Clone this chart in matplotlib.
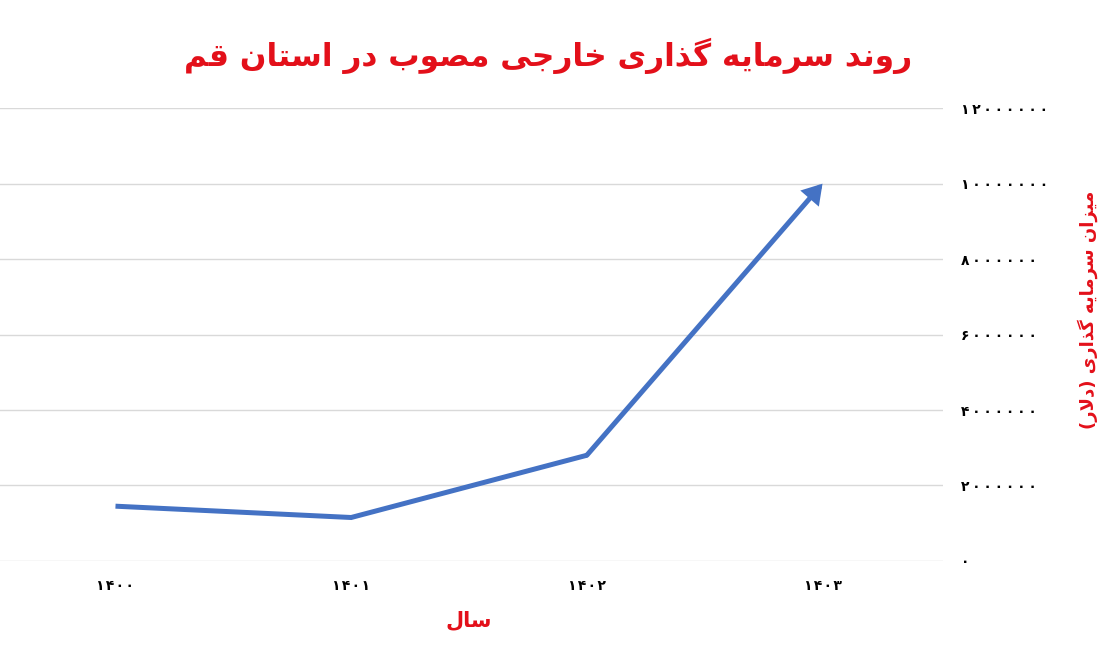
import matplotlib.pyplot as plt
from matplotlib.ticker import FuncFormatter

# data
years = ["1400", "1401", "1402", "1403"]
invest = [1450000, 1150000, 2800000, 10000000]
y_ticks = [0, 2000000, 4000000, 6000000, 8000000, 10000000, 12000000]

title_txt = "روند سرمایه گذاری خارجی مصوب در استان قم"
ylabel_txt = "میزان سرمایه گذاری (دلار)"
xlabel_txt = "سال"

RED = "#e3101a"
BLUE = "#4472c4"

# --- minimal persian shaping (no arabic_reshaper in the sandbox) ---
# isolated, final, initial, medial
FORMS = {
    "ا": ("\uFE8D", "\uFE8E", None, None),
    "ب": ("\uFE8F", "\uFE90", "\uFE91", "\uFE92"),
    "ت": ("\uFE95", "\uFE96", "\uFE97", "\uFE98"),
    "ج": ("\uFE9D", "\uFE9E", "\uFE9F", "\uFEA0"),
    "خ": ("\uFEA5", "\uFEA6", "\uFEA7", "\uFEA8"),
    "د": ("\uFEA9", "\uFEAA", None, None),
    "ذ": ("\uFEAB", "\uFEAC", None, None),
    "ر": ("\uFEAD", "\uFEAE", None, None),
    "ز": ("\uFEAF", "\uFEB0", None, None),
    "س": ("\uFEB1", "\uFEB2", "\uFEB3", "\uFEB4"),
    "ص": ("\uFEB9", "\uFEBA", "\uFEBB", "\uFEBC"),
    "ق": ("\uFED5", "\uFED6", "\uFED7", "\uFED8"),
    "ل": ("\uFEDD", "\uFEDE", "\uFEDF", "\uFEE0"),
    "م": ("\uFEE1", "\uFEE2", "\uFEE3", "\uFEE4"),
    "ن": ("\uFEE5", "\uFEE6", "\uFEE7", "\uFEE8"),
    "ه": ("\uFEE9", "\uFEEA", "\uFEEB", "\uFEEC"),
    "و": ("\uFEED", "\uFEEE", None, None),
    "ی": ("\uFBFC", "\uFBFD", "\uFBFE", "\uFBFF"),
    "گ": ("\uFB92", "\uFB93", "\uFB94", "\uFB95"),
    "LA": ("\uFEFB", "\uFEFC", None, None),
}


def _dual(c):
    return c in FORMS and FORMS[c][2] is not None


def fa(text):
    # merge lam + alef first
    chars = []
    i = 0
    while i < len(text):
        if text[i] == "ل" and i + 1 < len(text) and text[i + 1] == "ا":
            chars.append("LA")
            i += 2
        else:
            chars.append(text[i])
            i += 1
    out = []
    for i, c in enumerate(chars):
        if c not in FORMS:
            out.append(c)
            continue
        prev_j = i > 0 and _dual(chars[i - 1])
        next_j = _dual(c) and i + 1 < len(chars) and chars[i + 1] in FORMS
        iso, fin, ini, med = FORMS[c]
        if prev_j and next_j:
            out.append(med)
        elif prev_j:
            out.append(fin)
        elif next_j:
            out.append(ini)
        else:
            out.append(iso)
    vis = "".join(reversed(out))
    return vis.translate(str.maketrans("()", ")("))


def fa_digits(s, sep=""):
    return sep.join(str(s).translate(str.maketrans("0123456789", "۰۱۲۳۴۵۶۷۸۹")))


fig = plt.figure(figsize=(11, 6.56), dpi=100)
ax = fig.add_axes([0.0, 0.145, 0.857, 0.690])

xs = list(range(len(years)))
ax.plot(xs[:-1], invest[:-1], color=BLUE, lw=3.6, solid_capstyle="butt",
        solid_joinstyle="miter")
ax.annotate("", xy=(xs[-1], invest[-1]), xytext=(xs[-2], invest[-2]),
            arrowprops=dict(arrowstyle="-|>,head_length=0.45,head_width=0.28",
                            color=BLUE, lw=3.6, shrinkA=0, shrinkB=0,
                            mutation_scale=20, joinstyle="miter"))

ax.set_xlim(-0.49, 3.51)
ax.set_ylim(0, 12000000)
ax.set_yticks(y_ticks)
ax.yaxis.tick_right()
# spaced-out persian digits like the original
ax.yaxis.set_major_formatter(FuncFormatter(lambda v, p: fa_digits(int(v), "\u2009")))
ax.tick_params(axis="y", length=0, pad=13, labelsize=10)
ax.set_xticks(xs)
ax.set_xticklabels([fa_digits(y, "\u200a") for y in years], fontsize=10,
                   fontweight="bold")
ax.tick_params(axis="x", length=0, pad=13)
for lab in ax.get_yticklabels():
    lab.set_fontweight("bold")

ax.grid(axis="y", color="#d9d9d9", lw=1)
ax.set_axisbelow(True)
for s in ax.spines.values():
    s.set_visible(False)

fig.text(0.498, 0.915, fa(title_txt), color=RED, fontsize=22.5,
         fontweight="bold", ha="center", va="center")
fig.text(0.989, 0.527, fa(ylabel_txt), color=RED, fontsize=13,
         fontweight="bold", rotation=90, ha="center", va="center")
fig.text(0.426, 0.055, fa(xlabel_txt), color=RED, fontsize=15,
         fontweight="bold", ha="center", va="center")

fig.savefig("out.png", dpi=100)
